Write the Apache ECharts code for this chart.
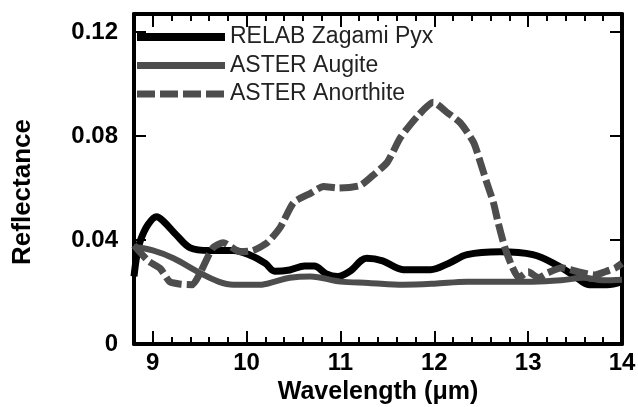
<!DOCTYPE html>
<html>
<head>
<meta charset="utf-8">
<script src="https://cdn.jsdelivr.net/npm/echarts@6/dist/echarts.min.js"></script>
<style>html,body{margin:0;padding:0;background:#fff}#c{width:638px;height:407px}</style>
</head>
<body>
<div id="c"></div>
<script>
// ---- Data ----
const seriesNames = ['RELAB Zagami Pyx', 'ASTER Augite', 'ASTER Anorthite'];
const xTickLabels = ['9', '10', '11', '12', '13', '14'];
const yTickLabels = ['0', '0.04', '0.08', '0.12'];

const zagamiX = [8.8, 8.83, 8.87, 8.95, 9.04, 9.12, 9.25, 9.4, 9.6, 9.86, 10.05, 10.2, 10.3, 10.46, 10.62, 10.72, 10.85, 10.97, 11.1, 11.28, 11.45, 11.67, 11.96, 12.15, 12.35, 12.7, 13.05, 13.3, 13.5, 13.65, 13.84, 14.0];
const zagamiY = [0.026, 0.034, 0.040, 0.046, 0.049, 0.047, 0.042, 0.037, 0.036, 0.036, 0.034, 0.031, 0.028, 0.0285, 0.030, 0.030, 0.027, 0.026, 0.028, 0.033, 0.032, 0.0286, 0.0286, 0.031, 0.0344, 0.0355, 0.0344, 0.0305, 0.026, 0.0228, 0.0228, 0.024];

const augiteX = [8.8, 9.0, 9.22, 9.5, 9.7, 9.86, 10.14, 10.3, 10.46, 10.68, 11.0, 11.3, 11.67, 12.0, 12.35, 12.7, 13.05, 13.35, 13.59, 13.8, 14.0];
const augiteY = [0.0374, 0.036, 0.033, 0.0274, 0.024, 0.0228, 0.0228, 0.024, 0.0255, 0.026, 0.024, 0.0235, 0.0228, 0.0232, 0.024, 0.024, 0.024, 0.0245, 0.0255, 0.0245, 0.0247];

const anorthiteX = [8.8, 8.95, 9.08, 9.18, 9.3, 9.42, 9.5, 9.64, 9.75, 9.93, 10.07, 10.22, 10.36, 10.5, 10.68, 10.82, 10.98, 11.21, 11.35, 11.5, 11.64, 11.82, 11.99, 12.14, 12.28, 12.42, 12.49, 12.56, 12.63, 12.68, 12.75, 12.83, 12.9, 13.0, 13.11, 13.21, 13.36, 13.53, 13.71, 13.82, 13.93, 14.0];
const anorthiteY = [0.038, 0.032, 0.029, 0.024, 0.023, 0.0228, 0.027, 0.037, 0.039, 0.0355, 0.036, 0.039, 0.045, 0.0544, 0.058, 0.0606, 0.060, 0.061, 0.065, 0.070, 0.0795, 0.0876, 0.093, 0.089, 0.085, 0.0775, 0.070, 0.062, 0.0544, 0.0467, 0.0374, 0.0297, 0.0255, 0.0278, 0.0255, 0.0274, 0.0293, 0.0278, 0.0266, 0.0278, 0.0293, 0.031];

const xMin = 8.8, xMax = 14, yMin = 0, yMax = 0.127;

// ---- Chart ----
const pair = (xs, ys) => xs.map((x, i) => [x, ys[i]]);
const FONT = 'Liberation Sans';
const frameLine = () => ({ show: true, onZero: false, lineStyle: { color: '#000', width: 4 } });
const ticks = (len) => ({ show: true, inside: true, length: len, lineStyle: { color: '#000', width: 2 } });
const noSplit = { show: false };

const chart = echarts.init(document.getElementById('c'));
chart.setOption({
  animation: false,
  title: { text: ' ', left: 0, top: 0, textStyle: { fontSize: 2, color: '#fff' } },
  grid: { left: 134, right: 16, top: 14, bottom: 63, containLabel: false, outerBoundsMode: 'none' },
  legend: {
    orient: 'vertical', left: 133, top: 25, padding: 0,
    itemWidth: 88, itemHeight: 14, itemGap: 4.5, selectedMode: false,
    textStyle: { fontSize: 23, fontFamily: FONT, lineHeight: 24, color: '#222' },
    itemStyle: { opacity: 0 },
    data: [
      { name: seriesNames[0], lineStyle: { width: 8 } },
      { name: seriesNames[1], lineStyle: { width: 7 } },
      { name: seriesNames[2], lineStyle: { width: 7 } }
    ]
  },
  xAxis: [
    { type: 'value', min: xMin, max: xMax, minInterval: 1, maxInterval: 1, position: 'bottom',
      axisLine: frameLine(), splitLine: noSplit, axisTick: ticks(13),
      axisLabel: { showMinLabel: false, margin: 7, color: '#000', fontSize: 24, fontWeight: 'bold', fontFamily: FONT,
        formatter: v => (xTickLabels.indexOf(String(v)) >= 0 ? String(v) : '') },
      name: 'Wavelength (\u03bcm)', nameLocation: 'middle', nameGap: 30,
      nameTextStyle: { color: '#000', fontSize: 25, fontWeight: 'bold', fontFamily: FONT } },
    { type: 'value', min: xMin, max: xMax, interval: 0.2, position: 'bottom',
      axisLine: { show: false, onZero: false }, splitLine: noSplit, axisLabel: { show: false },
      axisTick: ticks(7) },
    { type: 'value', min: xMin, max: xMax, minInterval: 1, maxInterval: 1, position: 'top',
      axisLine: frameLine(), splitLine: noSplit, axisLabel: { show: false },
      axisTick: ticks(13) },
    { type: 'value', min: xMin, max: xMax, interval: 0.2, position: 'top',
      axisLine: { show: false, onZero: false }, splitLine: noSplit, axisLabel: { show: false },
      axisTick: ticks(7) }
  ],
  yAxis: [
    { type: 'value', min: yMin, max: yMax, interval: 0.04, position: 'left',
      axisLine: frameLine(), splitLine: noSplit, axisTick: ticks(12),
      axisLabel: { showMaxLabel: false, margin: 16, color: '#000', fontSize: 24, fontWeight: 'bold', fontFamily: FONT,
        formatter: v => { const s = String(Math.round(v * 100) / 100); return yTickLabels.indexOf(s) >= 0 ? s : ''; } } },
    { type: 'value', min: yMin, max: yMax, interval: 0.04, position: 'right',
      axisLine: frameLine(), splitLine: noSplit, axisLabel: { show: false },
      axisTick: ticks(12) }
  ],
  graphic: [
    { type: 'text', x: 23, y: 192, rotation: Math.PI / 2,
      style: { text: 'Reflectance', fill: '#000', font: 'bold 26px "Liberation Sans"', textAlign: 'center', textVerticalAlign: 'middle' } }
  ],
  series: [
    { name: seriesNames[0], type: 'line', symbol: 'none', smooth: 0.35,
      color: '#000', lineStyle: { color: '#000', width: 7 }, data: pair(zagamiX, zagamiY) },
    { name: seriesNames[1], type: 'line', symbol: 'none', smooth: 0.35,
      color: '#4d4d4d', lineStyle: { color: '#4d4d4d', width: 6 }, data: pair(augiteX, augiteY) },
    { name: seriesNames[2], type: 'line', symbol: 'none', smooth: 0.2,
      color: '#4d4d4d', lineStyle: { color: '#4d4d4d', width: 7, type: [18, 5] }, data: pair(anorthiteX, anorthiteY) }
  ]
});
</script>
</body>
</html>
